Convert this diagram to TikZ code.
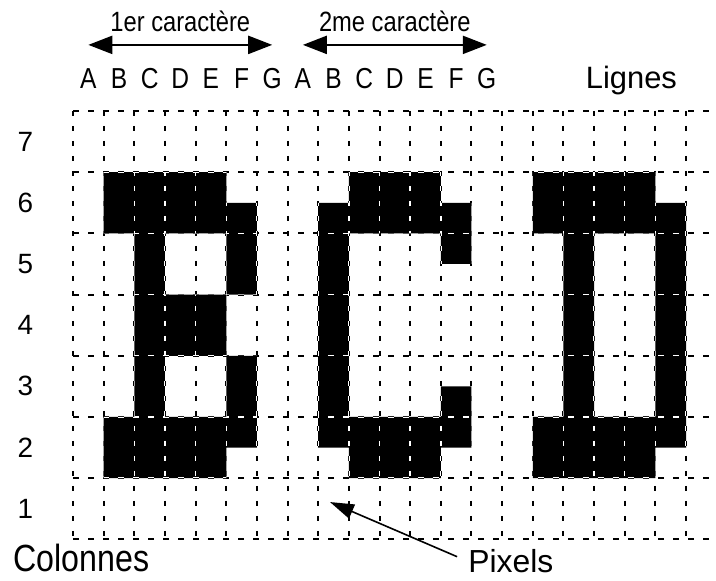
\documentclass[tikz,border=0pt]{standalone}
\usepackage{fontspec}
\setmainfont{Liberation Sans}
\newfontfamily\narrowsf[FakeStretch=0.85]{Liberation Sans}
\usepackage{tikz}
\usetikzlibrary{positioning, arrows.meta}

% black pixels of the letters B, C and D (column, row from the top)
\newcommand{\bcdpixels}{
  (1,2) rectangle (5,4) (5,3) rectangle (6,6) (2,4) rectangle (3,10)
  (2,6) rectangle (5,8) (5,8) rectangle (6,11) (1,10) rectangle (5,12)
  (9,2) rectangle (12,4) (8,3) rectangle (9,11) (12,3) rectangle (13,5)
  (12,9) rectangle (13,11) (9,10) rectangle (12,12)
  (15,2) rectangle (19,4) (19,3) rectangle (20,11) (16,4) rectangle (17,10)
  (15,10) rectangle (19,12)
}

\begin{document}
\begin{tikzpicture}[
    x=30.65bp, y=-30.6bp,
    vgrid/.style={line width=2bp, dash pattern=on 5bp off 10bp},
    hgrid/.style={line width=2bp, dash pattern=on 6bp off 9bp},
    col label/.style={anchor=base, font=\narrowsf\fontsize{29}{30}\selectfont},
    row label/.style={font=\fontsize{28}{30}\selectfont},
    span arrow/.style={{Triangle[length=24bp,width=18bp]}-{Triangle[length=24bp,width=18bp]}, line width=2.2bp},
    pointer/.style={-{Triangle[length=24bp,width=15bp]}, line width=1.6bp, shorten <=11bp}
]
\useasboundingbox (-2.382,-3.627) rectangle (20.979,15.359);

% grid
\foreach \c in {0,...,20}
    \draw[vgrid] (\c,0) -- (\c,14);
\foreach \r in {0,2,...,14}
    \draw[hgrid] (0,\r) -- (20.98,\r);

% letters
\fill \bcdpixels;
\begin{scope}
    \clip \bcdpixels;
    \foreach \c in {0,...,20}
        \draw[vgrid, white, line width=1.4bp] (\c,0) -- (\c,14);
    \foreach \r in {0,2,...,14}
        \draw[hgrid, white, line width=1.4bp] (0,\r) -- (20.98,\r);
\end{scope}

% labels
\foreach \L [count=\i from 0] in {A,B,C,D,E,F,G,A,B,C,D,E,F,G}
    \node[col label] (col\i) at (\i+0.5,-0.75) {\L};
\foreach \k in {1,...,7}
    \node[row label] (row\k) at (-1.55,15-2*\k) {\k};

\node[anchor=base, font=\fontsize{31}{32}\selectfont] (lignes) at (18.22,-0.75) {Lignes};
\node[anchor=base west, inner sep=1bp, font=\narrowsf\fontsize{38}{40}\selectfont] (colonnes) at (-1.99,15.04) {Colonnes};
\node[anchor=base west, inner sep=1bp, font=\fontsize{32}{34}\selectfont] (pixlabel) at (12.86,15.08) {Pixels};

\coordinate (arrowrow) at (0,-2.16);
\coordinate (pixtip) at (8.385,12.78);

\draw[span arrow] (col0 |- arrowrow) -- node[midway, above=8.5bp, font=\narrowsf\fontsize{28}{30}\selectfont] (char1) {1er caractère} (col6 |- arrowrow);
\draw[span arrow] (col7 |- arrowrow) -- node[midway, above=8.5bp, font=\narrowsf\fontsize{28}{30}\selectfont] (char2) {2me caractère} (col13 |- arrowrow);
\draw[pointer] (pixlabel.west) -- (pixtip);

\end{tikzpicture}
\end{document}
